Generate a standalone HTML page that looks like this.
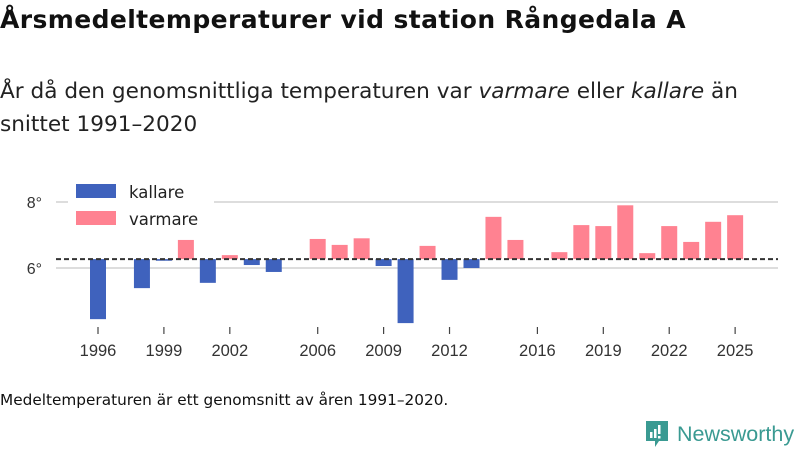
<!DOCTYPE html>
<html><head><meta charset="utf-8">
<style>
body{margin:0;width:800px;height:450px;background:#fff;font-family:"Liberation Sans",sans-serif;color:#111;overflow:hidden;position:relative}
.t{position:absolute;left:0;top:5px;font-family:"DejaVu Sans",sans-serif;font-size:25px;font-weight:bold;letter-spacing:0.4px}
.s{position:absolute;left:0;top:75px;font-family:"DejaVu Sans",sans-serif;font-size:21.6px;line-height:33px;color:#222}
.f{position:absolute;left:0;top:391px;font-family:"DejaVu Sans",sans-serif;font-size:15.3px;color:#111}
.logo{position:absolute;left:645px;top:420px;display:flex;align-items:center;font-size:21.5px;color:#3a9a92}
</style></head><body>
<div class="t">Årsmedeltemperaturer vid station Rångedala A</div>
<div class="s">År då den genomsnittliga temperaturen var <i>varmare</i> eller <i>kallare</i> än<br>snittet 1991–2020</div>
<svg id="chart" width="800" height="450" style="position:absolute;left:0;top:0"></svg>
<div class="f">Medeltemperaturen är ett genomsnitt av åren 1991–2020.</div>
<div class="logo"><svg width="24" height="28" viewBox="0 0 24 28"><path d="M1 1h22v20H14l-4 6v-6H1z" fill="#3a9a92"/><rect x="5" y="12" width="2.5" height="6" fill="#fff"/><rect x="9" y="9" width="2.5" height="9" fill="#fff"/><rect x="13" y="5" width="2.5" height="9" fill="#fff"/><rect x="13" y="16" width="2.5" height="2.5" fill="#fff"/></svg><span style="margin-left:8px">Newsworthy</span></div>
<script>
const years=[1996,1997,1998,1999,2000,2001,2002,2003,2004,2005,2006,2007,2008,2009,2010,2011,2012,2013,2014,2015,2016,2017,2018,2019,2020,2021,2022,2023,2024,2025];
const temps=[4.45,null,5.39,6.22,6.85,5.55,6.39,6.09,5.88,null,6.88,6.7,6.9,6.06,4.33,6.67,5.64,6.0,7.55,6.85,null,6.48,7.3,7.27,7.9,6.45,7.27,6.79,7.4,7.6];
const meanTemp=6.27;
const yTicks=[6,8];
const xTickLabels=[1996,1999,2002,2006,2009,2012,2016,2019,2022,2025];
const svg=document.getElementById('chart');
const NS='http://www.w3.org/2000/svg';
const X=y=>98+(y-1996)*21.97;
const Y=v=>268-(v-6)*33;
function mk(t,a){const e=document.createElementNS(NS,t);for(const k in a)e.setAttribute(k,a[k]);svg.appendChild(e);return e;}
yTicks.forEach(v=>{
  const l=mk('line',{x1:56,x2:778,y1:Y(v),y2:Y(v),stroke:'#ddd','stroke-width':2});
  
  
  const t=mk('text',{x:42,y:Y(v)+6,'text-anchor':'end','font-size':16,fill:'#333'});
  t.textContent=v+'°';
  
  
});
years.forEach((yr,i)=>{
  const v=temps[i];if(v===null)return;
  const y1=Y(Math.max(v,meanTemp)),y2=Y(Math.min(v,meanTemp));
  const r=mk('rect',{x:X(yr)-8,y:y1,width:16,height:Math.max(y2-y1,1),fill:v>=meanTemp?'#ff8291':'#3f62bd'});
  
  
});
const d=mk('line',{x1:56,x2:778,y1:Y(meanTemp),y2:Y(meanTemp),stroke:'#333','stroke-width':2,'stroke-dasharray':'5,3'});


xTickLabels.forEach(yr=>{
  const l=mk('line',{x1:X(yr),x2:X(yr),y1:327,y2:334,stroke:'#444','stroke-width':1.2});
  
  
  const t=mk('text',{x:X(yr),y:356,'text-anchor':'middle','font-size':16.5,fill:'#333'});
  t.textContent=yr;
  
  
});
const bg=mk('rect',{x:68,y:180,width:146,height:52,fill:'#fff'});


[['kallare','#3f62bd',184],['varmare','#ff8291',211]].forEach(([n,c,y])=>{
  const r=mk('rect',{x:76,y:y,width:40,height:14,fill:c});
  
  
  const t=mk('text',{x:129,y:y+14,'font-size':16.5,'font-family':'DejaVu Sans, sans-serif',fill:'#222'});
  t.textContent=n;
  
  
});
</script>
</body></html>
